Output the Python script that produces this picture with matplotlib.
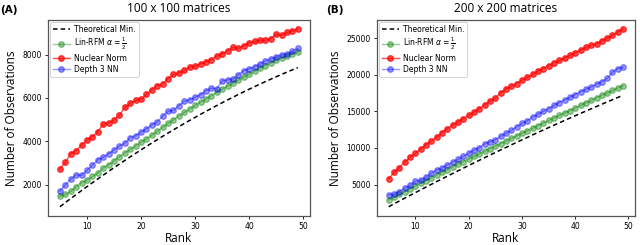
import matplotlib
matplotlib.use("Agg")
import matplotlib.pyplot as plt

ranks = list(range(5, 50))

# Panel A: 100 x 100 matrices
theo_a = [975, 1164, 1351, 1536, 1719, 1900, 2079, 2256, 2431, 2604, 2775, 2944, 3111, 3276, 3439,
          3600, 3759, 3916, 4071, 4224, 4375, 4524, 4671, 4816, 4959, 5100, 5239, 5376, 5511, 5644,
          5775, 5904, 6031, 6156, 6279, 6400, 6519, 6636, 6751, 6864, 6975, 7084, 7191, 7296, 7399]
rfm_a = [1450, 1540, 1680, 1900, 2080, 2210, 2370, 2520, 2770, 2910, 3100, 3280, 3450, 3620, 3790,
         3950, 4110, 4280, 4460, 4640, 4820, 4990, 5160, 5330, 5490, 5650, 5800, 5950, 6100, 6250,
         6400, 6540, 6680, 6820, 6960, 7100, 7230, 7360, 7490, 7610, 7730, 7850, 7950, 8030, 8100]
nuc_a = [2730, 3020, 3420, 3570, 3820, 4050, 4200, 4440, 4780, 4840, 4980, 5200, 5560, 5750, 5880,
         5930, 6160, 6380, 6560, 6650, 6890, 7080, 7150, 7270, 7420, 7450, 7570, 7660, 7760, 7930,
         8030, 8180, 8330, 8290, 8400, 8540, 8610, 8660, 8660, 8740, 8940, 8890, 9020, 9080, 9180]
nn_a = [1690, 1980, 2240, 2450, 2420, 2650, 2900, 3140, 3260, 3420, 3600, 3780, 3900, 4170, 4250,
        4420, 4570, 4750, 4900, 5150, 5380, 5420, 5640, 5850, 5910, 6030, 6150, 6330, 6450, 6420,
        6780, 6830, 6870, 7070, 7250, 7340, 7440, 7560, 7710, 7800, 7900, 8000, 8030, 8150, 8280]

# Panel B: 200 x 200 matrices
theo_b = [1975, 2364, 2751, 3136, 3519, 3900, 4279, 4656, 5031, 5404, 5775, 6144, 6511, 6876, 7239,
          7600, 7959, 8316, 8671, 9024, 9375, 9724, 10071, 10416, 10759, 11100, 11439, 11776, 12111, 12444,
          12775, 13104, 13431, 13756, 14079, 14400, 14719, 15036, 15351, 15664, 15975, 16284, 16591, 16896, 17199]
rfm_b = [2900, 3250, 3650, 4000, 4400, 4800, 5200, 5550, 5950, 6300, 6700, 7050, 7450, 7800, 8150,
         8500, 8850, 9200, 9550, 9900, 10250, 10600, 10950, 11300, 11650, 12000, 12350, 12700, 13050, 13400,
         13750, 14100, 14450, 14800, 15100, 15450, 15800, 16150, 16500, 16850, 17200, 17500, 17850, 18200, 18500]
nuc_b = [5800, 6650, 7300, 8050, 8700, 9250, 9850, 10450, 10950, 11450, 12100, 12650, 13100, 13550, 14000,
         14450, 14900, 15350, 15850, 16400, 16850, 17500, 18050, 18400, 18800, 19250, 19650, 20050, 20500, 20850,
         21250, 21600, 21950, 22300, 22650, 23000, 23350, 23750, 24000, 24200, 24600, 25000, 25400, 25850, 26250]
nn_b = [3600, 3700, 4050, 4500, 4900, 5450, 5600, 6000, 6550, 7000, 7250, 7700, 8050, 8450, 8850,
        9250, 9700, 10000, 10550, 10850, 11100, 11600, 12000, 12400, 12900, 13350, 13700, 14200, 14600, 15000,
        15350, 15800, 16200, 16550, 16900, 17300, 17650, 18000, 18350, 18700, 19050, 19500, 20350, 20850, 21000]

titles = ["100 x 100 matrices", "200 x 200 matrices"]
panel_labels = ["(A)", "(B)"]
labels = ["Theoretical Min.", r"Lin-RFM $\alpha = \frac{1}{2}$", "Nuclear Norm", "Depth 3 NN"]

fig = plt.figure(figsize=(6.4, 2.45), dpi=100)
axA = fig.add_axes([0.075, 0.12, 0.409, 0.798])
axB = fig.add_axes([0.589, 0.12, 0.403, 0.798])

lab_font = "Open Sans"
for ax, th, rf, nu, nn, title, pl in [
    (axA, theo_a, rfm_a, nuc_a, nn_a, titles[0], panel_labels[0]),
    (axB, theo_b, rfm_b, nuc_b, nn_b, titles[1], panel_labels[1]),
]:
    ax.plot(ranks, th, color="black", linestyle="--", lw=1.1, dashes=(3, 2), label=labels[0])
    ax.plot(ranks, rf, color="green", marker="o", ms=4, lw=1, alpha=0.4, label=labels[1])
    ax.plot(ranks, nu, color="red", marker="o", ms=4, lw=1, alpha=0.7, label=labels[2])
    ax.plot(ranks, nn, color="blue", marker="o", ms=4, lw=1, alpha=0.4, label=labels[3])
    ax.set_title(title, fontsize=8.5, family=lab_font, pad=6)
    ax.set_xlabel("Rank", fontsize=8.5, family=lab_font, labelpad=1)
    ax.set_ylabel("Number of Observations", fontsize=8.5, family=lab_font, labelpad=3)
    ax.set_xticks([10, 20, 30, 40, 50])
    ax.tick_params(labelsize=5.5, length=2.5, width=0.6, pad=2)
    for s in ax.spines.values():
        s.set_color("#555555")
        s.set_linewidth(0.9)
    leg = ax.legend(loc="upper left", fontsize=5.5, handlelength=2.2, borderpad=0.35,
                    labelspacing=0.25, handletextpad=0.6, framealpha=1, borderaxespad=0.3)
    leg.get_frame().set_linewidth(0.6)

axA.set_yticks([2000, 4000, 6000, 8000])
axB.set_yticks([5000, 10000, 15000, 20000, 25000])
fig.text(0.0, 0.96, panel_labels[0], fontsize=7.5, fontweight="bold", va="center")
fig.text(0.51, 0.96, panel_labels[1], fontsize=7.5, fontweight="bold", va="center")

fig.savefig("out.png", dpi=100)
